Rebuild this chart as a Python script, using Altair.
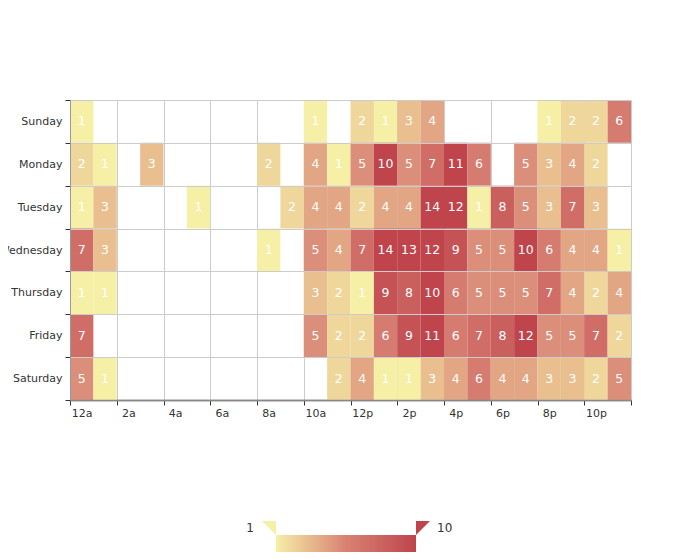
import json
import altair as alt
import pandas as pd

days = ["Sunday", "Monday", "Tuesday", "Wednesday", "Thursday", "Friday", "Saturday"]
hour_labels = ["12a", "1a", "2a", "3a", "4a", "5a", "6a", "7a", "8a", "9a", "10a", "11a",
               "12p", "1p", "2p", "3p", "4p", "5p", "6p", "7p", "8p", "9p", "10p", "11p"]

sunday    = [1, 0, 0, 0, 0, 0, 0, 0, 0, 0, 1, 0, 2, 1, 3, 4, 0, 0, 0, 0, 1, 2, 2, 6]
monday    = [2, 1, 0, 3, 0, 0, 0, 0, 2, 0, 4, 1, 5, 10, 5, 7, 11, 6, 0, 5, 3, 4, 2, 0]
tuesday   = [1, 3, 0, 0, 0, 1, 0, 0, 0, 2, 4, 4, 2, 4, 4, 14, 12, 1, 8, 5, 3, 7, 3, 0]
wednesday = [7, 3, 0, 0, 0, 0, 0, 0, 1, 0, 5, 4, 7, 14, 13, 12, 9, 5, 5, 10, 6, 4, 4, 1]
thursday  = [1, 1, 0, 0, 0, 0, 0, 0, 0, 0, 3, 2, 1, 9, 8, 10, 6, 5, 5, 5, 7, 4, 2, 4]
friday    = [7, 0, 0, 0, 0, 0, 0, 0, 0, 0, 5, 2, 2, 6, 9, 11, 6, 7, 8, 12, 5, 5, 7, 2]
saturday  = [5, 1, 0, 0, 0, 0, 0, 0, 0, 0, 0, 2, 4, 1, 1, 3, 4, 6, 4, 4, 3, 3, 2, 5]

counts = {
    "Sunday": sunday, "Monday": monday, "Tuesday": tuesday, "Wednesday": wednesday,
    "Thursday": thursday, "Friday": friday, "Saturday": saturday,
}

color_min, color_max = 1, 10
palette = ["#f6efa6", "#d88273", "#bf444c"]

rows = []
for d in days:
    for h, v in enumerate(counts[d]):
        if v > 0:
            rows.append({"day": d, "hour": h, "value": v})
df = pd.DataFrame(rows)

W, H = 561, 300
FONT = "DejaVu Sans"

label_expr = "datum.value >= 24 ? '' : " + json.dumps(hour_labels).replace('"', "'") + "[datum.value]"
last_day_test = "datum.value === '" + days[-1] + "'"

x_axis = alt.Axis(
    values=list(range(0, 25, 2)), labelExpr=label_expr, labelOffset=W / 48,
    labelFlush=False, labelOverlap=False, grid=True, gridColor="#cccccc",
    domainColor="#888888", domainWidth=1.5, tickColor="#333333", tickSize=5,
    labelPadding=2, labelFontSize=11, labelColor="#333333", labelFont=FONT, title=None,
)
y_axis = alt.Axis(
    tickBand="extent", grid=True,
    gridColor={"condition": {"test": last_day_test, "value": "#888888"}, "value": "#cccccc"},
    gridWidth={"condition": {"test": last_day_test, "value": 1.5}, "value": 1},
    domainColor="#999999",
    tickColor="#333333", tickSize=5, labelPadding=3, labelFontSize=11,
    labelColor="#333333", labelFont=FONT, title=None,
)
x_scale = alt.Scale(domain=[0, 24], nice=False, zero=False)
y_scale = alt.Scale(domain=days, paddingInner=0, paddingOuter=0)

base = alt.Chart(df).transform_calculate(h2="datum.hour + 1", mid="datum.hour + 0.5")

cells = base.mark_rect().encode(
    x=alt.X("hour:Q", scale=x_scale, axis=x_axis),
    x2="h2:Q",
    y=alt.Y("day:N", scale=y_scale, axis=y_axis),
    color=alt.Color("value:Q",
                    scale=alt.Scale(domain=[color_min, (color_min + color_max) / 2, color_max],
                                    range=palette, interpolate="rgb", clamp=True),
                    legend=None),
)
labels = base.mark_text(color="white", fontSize=12.5, font=FONT).encode(
    x=alt.X("mid:Q", scale=x_scale, axis=x_axis),
    y=alt.Y("day:N", scale=y_scale, axis=y_axis),
    text="value:Q",
)
heat = alt.layer(cells, labels)

leg_df = pd.DataFrame({"lo": [color_min], "hi": [color_max]})
leg_x = alt.Scale(domain=[color_min, color_max], range=[206, 346])

bar = alt.Chart(leg_df).mark_rect(
    color=alt.Gradient(
        gradient="linear",
        stops=[alt.GradientStop(color=palette[0], offset=0),
               alt.GradientStop(color=palette[1], offset=0.5),
               alt.GradientStop(color=palette[2], offset=1)],
        x1=0, x2=1, y1=0, y2=0,
    )
).encode(
    x=alt.X("lo:Q", scale=leg_x, axis=None), x2="hi:Q",
    y=alt.value(435), y2=alt.value(455),
)
tri_lo = alt.Chart(leg_df).mark_point(
    shape="M -1 -1 L 1 -1 L 1 1 Z", filled=True, size=196, color=palette[0],
    opacity=1, strokeWidth=0, xOffset=-7,
).encode(x=alt.X("lo:Q", scale=leg_x, axis=None), y=alt.value(428))
tri_hi = alt.Chart(leg_df).mark_point(
    shape="M -1 -1 L 1 -1 L -1 1 Z", filled=True, size=196, color=palette[2],
    opacity=1, strokeWidth=0, xOffset=7,
).encode(x=alt.X("hi:Q", scale=leg_x, axis=None), y=alt.value(428))
txt_lo = alt.Chart(leg_df).mark_text(
    align="right", baseline="middle", dx=-22, fontSize=12, color="#333333", font=FONT,
).encode(x=alt.X("lo:Q", scale=leg_x, axis=None), y=alt.value(428), text="lo:Q")
txt_hi = alt.Chart(leg_df).mark_text(
    align="left", baseline="middle", dx=21, fontSize=12, color="#333333", font=FONT,
).encode(x=alt.X("hi:Q", scale=leg_x, axis=None), y=alt.value(428), text="hi:Q")

legend = alt.layer(bar, tri_lo, tri_hi, txt_lo, txt_hi)

chart = (
    alt.layer(heat, legend)
    .resolve_scale(x="independent")
    .properties(
        width=W, height=H,
        autosize=alt.AutoSizeParams(type="none"),
        padding={"left": 62, "top": 92, "right": 61, "bottom": 152},
    )
    .configure_view(stroke=None)
    .configure(font=FONT)
)

chart.save("out.html", embed_options={"renderer": "svg", "actions": False})
